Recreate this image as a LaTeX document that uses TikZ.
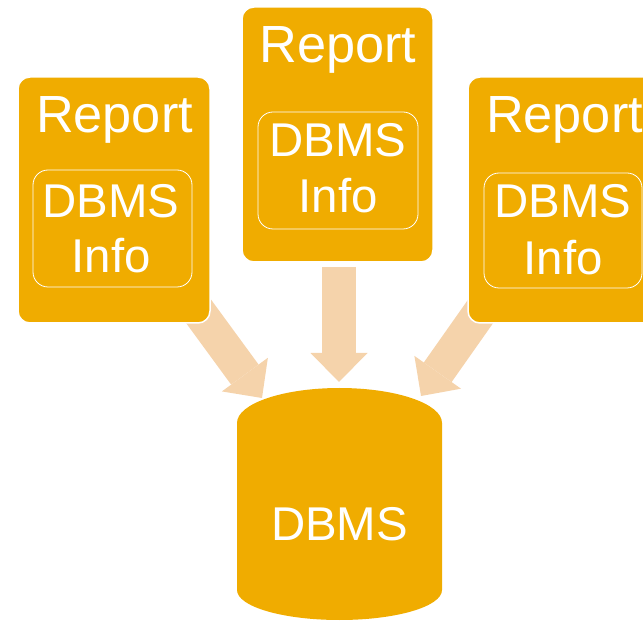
\documentclass[tikz,border=0pt]{standalone}
\usepackage{fontspec}
\setmainfont{Liberation Sans}
\usetikzlibrary{arrows.meta}
\definecolor{boxcol}{HTML}{F0AC00}
\definecolor{arrowcol}{HTML}{F5D3AB}
\pgfdeclarelayer{bg}
\pgfsetlayers{bg,main}
\tikzset{
  card/.style={draw=white, line width=1.5pt, fill=boxcol, rounded corners=12pt, inner sep=0pt, outer sep=0pt},
  infobox/.style={draw=white, line width=0.8pt, rounded corners=15pt, inner sep=0pt, outer sep=0pt},
  titletext/.style={anchor=base, text=white, inner sep=0pt, font=\fontsize{52.3}{55}\selectfont},
  bodytext/.style={anchor=base, text=white, inner sep=0pt, font=\fontsize{47.4}{55}\selectfont},
  blockarrow/.style={draw=arrowcol, line width=34pt, -{Triangle[length=29pt,width=57pt,line width=0pt]}}
}
\begin{document}
\begin{tikzpicture}[x=1pt,y=1pt]
\useasboundingbox (0,0) rectangle (643,622);
\clip (0,0) rectangle (643,622);
% arrow end points
\coordinate (aLs) at (191,321);
\coordinate (aLt) at (262,224);
\coordinate (aCs) at (339,355);
\coordinate (aCt) at (339,240);
\coordinate (aRs) at (490,324);
\coordinate (aRt) at (421,226);
\begin{pgfonlayer}{bg}
\draw[blockarrow] (aLs) -- (aLt);
\draw[blockarrow] (aCs) -- (aCt);
\draw[blockarrow] (aRs) -- (aRt);
\end{pgfonlayer}
% left card
\node[card, minimum width=192pt, minimum height=246pt] (L) at (114,422) {};
\node[infobox, minimum width=159pt, minimum height=117pt] (Li) at (112.5,393.5) {};
\node[titletext] (Lt) at (114.5,489) {Report};
\node[bodytext] (Ld) at (111,404) {DBMS};
\node[bodytext] (Lf) at (111,349) {Info};
% centre card
\node[card, minimum width=191pt, minimum height=255pt] (C) at (337.5,487.5) {};
\node[infobox, minimum width=160pt, minimum height=117pt] (Ci) at (338,451.5) {};
\node[titletext] (Ct) at (338,559) {Report};
\node[bodytext] (Cd) at (338,465) {DBMS};
\node[bodytext] (Cf) at (338,409) {Info};
% right card
\node[card, minimum width=192pt, minimum height=246pt] (R) at (564,422) {};
\node[infobox, minimum width=158pt, minimum height=115pt] (Ri) at (563,391.5) {};
\node[titletext] (Rt) at (564.5,489) {Report};
\node[bodytext] (Rd) at (563,404) {DBMS};
\node[bodytext] (Rf) at (563,347) {Info};
% database cylinder
\fill[boxcol] (237,199) -- (237,32)
  arc[start angle=180, end angle=360, x radius=102.5, y radius=30]
  -- (442,199)
  arc[start angle=0, end angle=180, x radius=102.5, y radius=35] -- cycle;
\node[bodytext] (db) at (339.5,82) {DBMS};
\end{tikzpicture}
\end{document}
